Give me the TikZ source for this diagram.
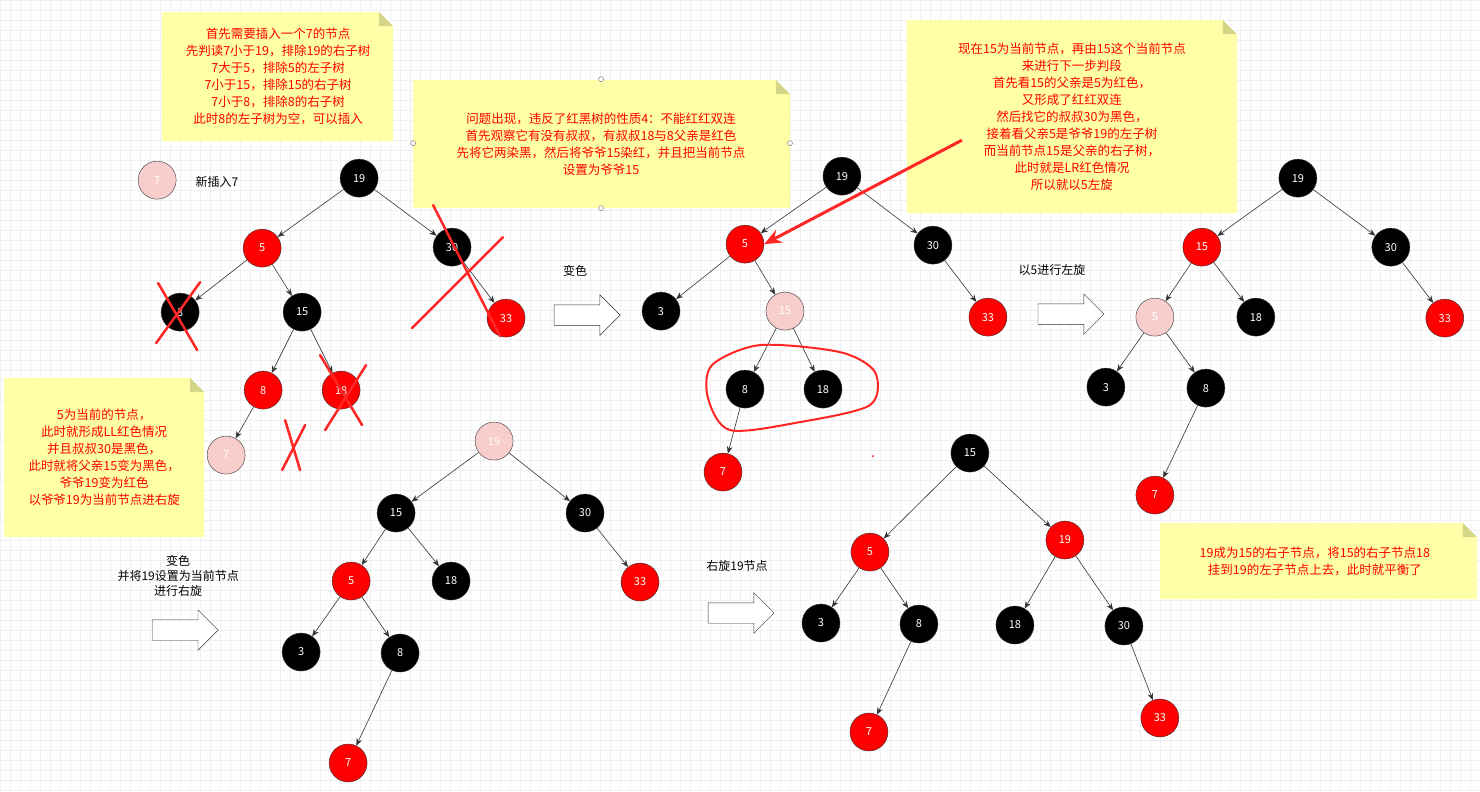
\documentclass[tikz,border=0pt]{standalone}
\usepackage{fontspec}
\setmainfont{Noto Sans CJK SC}
\usetikzlibrary{shapes,arrows.meta}
\tikzset{>={Stealth[width=2mm,length=2.5mm]}}
\definecolor{notey}{HTML}{FFFFA8}
\definecolor{notef}{HTML}{D5D58A}
\definecolor{pinkn}{HTML}{F8CECC}
\definecolor{gridc}{HTML}{F0F0F0}
\newcommand{\stickynote}[4]{%
  \fill[notey] (#1,#2) -- (#3-14,#2) -- (#3,#2+14) -- (#3,#4) -- (#1,#4) -- cycle;
  \fill[notef] (#3-14,#2) -- (#3,#2+14) -- (#3-14,#2+14) -- cycle;}
\begin{document}
\begin{tikzpicture}[x=1pt,y=-1pt,font=\fontsize{12pt}{15pt}\selectfont]
          \tikzstyle{bnode} = [circle, draw=black!80, fill=black, text=white, minimum size = 38pt, inner sep = 0pt, font=\fontsize{11pt}{12pt}\selectfont]
          \tikzstyle{rnode} = [bnode, fill=red]
          \tikzstyle{pnode} = [bnode, fill=pinkn]
          \tikzstyle{edge} = [->, draw=black!80, semithick]
          \tikzstyle{bigarrow} = [single arrow, draw=black!80, fill=white, minimum height = 66pt, inner xsep = 0pt, inner ysep = 10pt, single arrow head extend = 10pt]
          \tikzstyle{notetext} = [text=red, align=center, font=\fontsize{12.5pt}{17pt}\selectfont]
          \tikzstyle{scribble} = [red!85, line width = 2.5pt, line cap=round]

          \fill[white] (0,0) rectangle (1480,791);
          \draw[gridc, step=10pt] (0,0) grid (1480,791);

          % notes
          \stickynote{162}{12}{393}{141}
          \node[notetext] (n1) at (278,76) {首先需要插入一个7的节点\\先判读7小于19，排除19的右子树\\7大于5，排除5的左子树\\7小于15，排除15的右子树\\7小于8，排除8的右子树\\此时8的左子树为空，可以插入};
          \stickynote{413}{80}{790}{208}
          \node[notetext] (n2) at (601,144) {问题出现，违反了红黑树的性质4：不能红红双连\\首先观察它有没有叔叔，有叔叔18与8父亲是红色\\先将它两染黑，然后将爷爷15染红，并且把当前节点\\设置为爷爷15};
          \foreach \hx/\hy in {601/79, 413/143, 790/143, 601/208}
            \draw[black!60, fill=white] (\hx,\hy) circle (2.5pt);
          \stickynote{907}{20}{1237}{213}
          \node[notetext] (n3) at (1072,117) {现在15为当前节点，再由15这个当前节点\\来进行下一步判段\\首先看15的父亲是5为红色，\\又形成了红红双连\\然后找它的叔叔30为黑色，\\接着看父亲5是爷爷19的左子树\\而当前节点15是父亲的右子树，\\此时就是LR红色情况\\所以就以5左旋};
          \stickynote{4}{378}{204}{537}
          \node[notetext] (n4) at (104,457) {5为当前的节点，\\此时就形成LL红色情况\\并且叔叔30是黑色，\\此时就将父亲15变为黑色，\\爷爷19变为红色\\以爷爷19为当前节点进右旋};
          \stickynote{1160}{523}{1477}{599}
          \node[notetext] (n5) at (1315,561) {19成为15的右子节点，将15的右子节点18\\挂到19的左子节点上去，此时就平衡了};

          % legend
          \node[pnode] (lg) at (157,180) {7};
          \node[anchor=west] (lgt) at (192,182) {新插入7};

          % tree 1
          \node[bnode] (a19) at (359,178) {19};
          \node[rnode] (a5) at (262,248) {5};
          \node[bnode] (a30) at (452,247) {30};
          \node[bnode] (a3) at (180,312) {3};
          \node[bnode] (a15) at (302,312) {15};
          \node[rnode] (a33) at (506,318) {33};
          \node[rnode] (a8) at (263,390) {8};
          \node[rnode] (a18) at (341,390) {18};
          \node[pnode] (a7) at (226,455) {7};
          \foreach \p/\c in {a19/a5, a19/a30, a5/a3, a5/a15, a30/a33, a15/a8, a15/a18, a8/a7}
            \draw[edge] (\p) -- (\c);
          \draw[scribble] (158,283) -- (197,350) (200,282) -- (156,343);
          \draw[scribble] (433,205) -- (500,336) (412,328) -- (503,237);
          \draw[scribble] (320,355) -- (362,425) (366,365) -- (325,430);
          \draw[scribble] (285,420) -- (300,470) (305,425) -- (282,470);

          \node[bigarrow] (ar1) at (582,315) {};
          \node (ar1t) at (575,271) {变色};

          % tree 2
          \node[bnode] (b19) at (842,176) {19};
          \node[rnode] (b5) at (745,244) {5};
          \node[bnode] (b30) at (933,245) {30};
          \node[bnode] (b3) at (661,311) {3};
          \node[pnode] (b15) at (785,311) {15};
          \node[rnode] (b33) at (988,317) {33};
          \node[bnode] (b8) at (745,389) {8};
          \node[bnode] (b18) at (823,389) {18};
          \node[rnode] (b7) at (723,472) {7};
          \foreach \p/\c in {b19/b5, b19/b30, b5/b3, b5/b15, b30/b33, b15/b8, b15/b18, b8/b7}
            \draw[edge] (\p) -- (\c);
          \draw[red!85, line width=2pt] plot[smooth cycle] coordinates {(712,365) (760,345) (840,352) (875,372) (870,405) (800,422) (730,430) (708,398)};
          \coordinate (ptr) at (962,140);
          \draw[red!85, line width=3pt, -{Stealth[width=5mm,length=6mm]}] (ptr) -- (b5.east);
          \fill[red] (873,456) circle (1pt);

          \node[bigarrow] (ar2) at (1066,314) {};
          \node (ar2t) at (1052,270) {以5进行左旋};

          % tree 3
          \node[bnode] (c19) at (1298,178) {19};
          \node[rnode] (c15) at (1202,247) {15};
          \node[bnode] (c30) at (1391,247) {30};
          \node[pnode] (c5) at (1155,317) {5};
          \node[bnode] (c18) at (1256,317) {18};
          \node[rnode] (c33) at (1445,318) {33};
          \node[bnode] (c3) at (1106,387) {3};
          \node[bnode] (c8) at (1206,388) {8};
          \node[rnode] (c7) at (1155,495) {7};
          \foreach \p/\c in {c19/c15, c19/c30, c15/c5, c15/c18, c30/c33, c5/c3, c5/c8, c8/c7}
            \draw[edge] (\p) -- (\c);

          % tree 4
          \node[pnode] (d19) at (494,441) {19};
          \node[bnode] (d15) at (396,513) {15};
          \node[bnode] (d30) at (585,513) {30};
          \node[rnode] (d5) at (351,581) {5};
          \node[bnode] (d18) at (451,581) {18};
          \node[rnode] (d33) at (640,582) {33};
          \node[bnode] (d3) at (301,652) {3};
          \node[bnode] (d8) at (400,653) {8};
          \node[rnode] (d7) at (348,763) {7};
          \foreach \p/\c in {d19/d15, d19/d30, d15/d5, d15/d18, d30/d33, d5/d3, d5/d8, d8/d7}
            \draw[edge] (\p) -- (\c);

          \node[bigarrow] (ar3) at (180,630) {};
          \node[align=center] (ar3t) at (178,576) {变色\\并将19设置为当前节点\\进行右旋};

          % tree 5
          \node[bnode] (e15) at (970,453) {15};
          \node[rnode] (e5) at (870,552) {5};
          \node[rnode] (e19) at (1065,540) {19};
          \node[bnode] (e3) at (821,623) {3};
          \node[bnode] (e8) at (919,624) {8};
          \node[bnode] (e18) at (1015,625) {18};
          \node[bnode] (e30) at (1124,626) {30};
          \node[rnode] (e7) at (869,732) {7};
          \node[rnode] (e33) at (1160,718) {33};
          \foreach \p/\c in {e15/e5, e15/e19, e5/e3, e5/e8, e19/e18, e19/e30, e8/e7, e30/e33}
            \draw[edge] (\p) -- (\c);

          \node[bigarrow] (ar4) at (736,613) {};
          \node (ar4t) at (737,566) {右旋19节点};
\end{tikzpicture}
\end{document}
